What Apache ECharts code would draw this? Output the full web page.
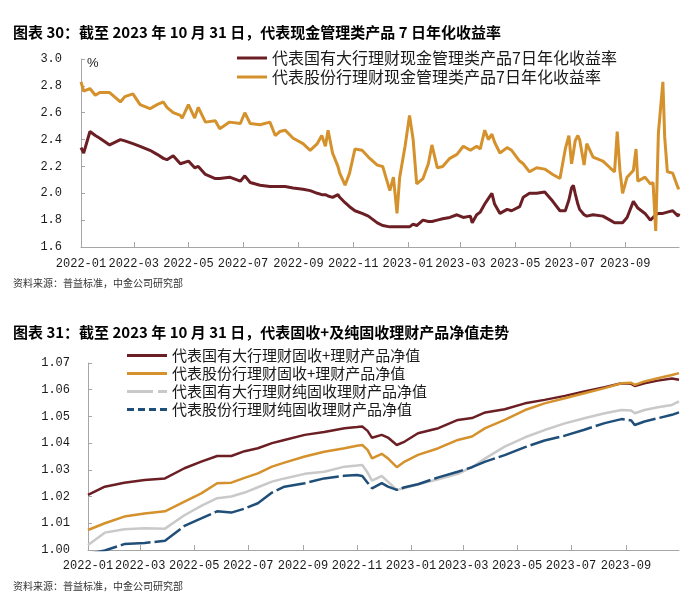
<!DOCTYPE html>
<html><head><meta charset="utf-8">
<script src="https://cdn.jsdelivr.net/npm/echarts@6/dist/echarts.min.js"></script>
<style>html,body{margin:0;padding:0;background:#fff}#c{width:700px;height:601px}</style>
</head><body><div id="c"></div>
<script>
// ---------- text ----------
const title1 = '图表 30：截至 2023 年 10 月 31 日，代表现金管理类产品 7 日年化收益率';
const title2 = '图表 31：截至 2023 年 10 月 31 日，代表固收+及纯固收理财产品净值走势';
const sourceText = '资料来源：普益标准，中金公司研究部';
const yieldNames = ['代表国有大行理财现金管理类产品7日年化收益率', '代表股份行理财现金管理类产品7日年化收益率'];
const navNames = ['代表国有大行理财固收+理财产品净值', '代表股份行理财固收+理财产品净值', '代表国有大行理财纯固收理财产品净值', '代表股份行理财纯固收理财产品净值'];

// ---------- axes ----------
const tickDates = ['2022-01-01','2022-03-01','2022-05-01','2022-07-01','2022-09-01','2022-11-01','2023-01-01','2023-03-01','2023-05-01','2023-07-01','2023-09-01'];
const tickLabels = ['2022-01','2022-03','2022-05','2022-07','2022-09','2022-11','2023-01','2023-03','2023-05','2023-07','2023-09'];
const xStart = '2022-01-01', xEnd = '2023-10-31';

// ---------- chart 30: 7-day annualised yield (%) ----------
const yieldDates = [
'2022-01-01','2022-01-04','2022-01-11','2022-01-17','2022-01-22','2022-02-02','2022-02-14','2022-02-19','2022-02-28','2022-03-08',
'2022-03-19','2022-03-27','2022-04-03','2022-04-07','2022-04-14','2022-04-22','2022-04-24','2022-05-01','2022-05-08','2022-05-12',
'2022-05-20','2022-05-31','2022-06-05','2022-06-16','2022-06-28','2022-07-03','2022-07-09','2022-07-20','2022-07-31','2022-08-06',
'2022-08-11','2022-08-17','2022-08-26','2022-09-06','2022-09-14','2022-09-22','2022-09-27','2022-10-01','2022-10-04','2022-10-09',
'2022-10-15','2022-10-17','2022-10-23','2022-10-28','2022-11-03','2022-11-11','2022-11-18','2022-11-28','2022-12-04','2022-12-12',
'2022-12-16','2022-12-20','2022-12-23','2022-12-29','2023-01-03','2023-01-07','2023-01-11','2023-01-18','2023-01-24','2023-01-28',
'2023-02-03','2023-02-09','2023-02-17','2023-02-25','2023-03-04','2023-03-12','2023-03-14','2023-03-19','2023-03-23','2023-03-28',
'2023-04-01','2023-04-05','2023-04-08','2023-04-14','2023-04-22','2023-04-27','2023-05-06','2023-05-10','2023-05-17','2023-05-25',
'2023-06-03','2023-06-12','2023-06-20','2023-06-26','2023-06-30','2023-07-03','2023-07-05','2023-07-07','2023-07-10','2023-07-12',
'2023-07-17','2023-07-20','2023-07-27','2023-08-07','2023-08-15','2023-08-20','2023-08-23','2023-08-26','2023-08-29','2023-09-03',
'2023-09-10','2023-09-13','2023-09-15','2023-09-23','2023-09-29','2023-10-02','2023-10-05','2023-10-08','2023-10-13','2023-10-15',
'2023-10-18','2023-10-24','2023-10-30','2023-10-31'];
const yieldBigBank = [
2.34,2.30,2.46,2.43,2.41,2.36,2.40,2.39,2.37,2.35,
2.32,2.29,2.26,2.25,2.28,2.22,2.22,2.24,2.19,2.20,
2.14,2.11,2.11,2.12,2.09,2.13,2.08,2.06,2.05,2.05,
2.05,2.05,2.04,2.03,2.02,2.00,1.99,1.99,1.98,1.97,
1.99,1.97,1.93,1.90,1.87,1.85,1.83,1.78,1.76,1.75,
1.75,1.75,1.75,1.75,1.75,1.77,1.76,1.80,1.79,1.79,
1.80,1.81,1.82,1.84,1.82,1.83,1.78,1.84,1.86,1.92,
1.96,2.00,1.92,1.85,1.88,1.87,1.90,1.97,2.00,2.00,
2.01,1.94,1.87,1.87,1.95,2.04,2.06,2.00,1.92,1.88,
1.84,1.83,1.84,1.83,1.80,1.78,1.78,1.78,1.78,1.82,
1.94,1.91,1.89,1.85,1.80,1.82,1.84,1.85,1.85,1.85,
1.86,1.87,1.83,1.85];
const yieldJointStock = [
2.83,2.76,2.78,2.73,2.75,2.75,2.68,2.72,2.74,2.66,
2.63,2.66,2.68,2.64,2.60,2.58,2.56,2.66,2.56,2.64,
2.53,2.54,2.48,2.53,2.52,2.60,2.52,2.51,2.53,2.43,
2.46,2.47,2.41,2.37,2.32,2.37,2.43,2.35,2.47,2.30,
2.20,2.15,2.06,2.15,2.33,2.32,2.27,2.21,2.20,2.02,
2.12,1.85,2.12,2.35,2.58,2.40,2.07,2.11,2.22,2.36,
2.19,2.20,2.26,2.29,2.35,2.32,2.33,2.35,2.33,2.47,
2.40,2.44,2.38,2.30,2.34,2.32,2.24,2.22,2.16,2.19,
2.18,2.14,2.11,2.33,2.43,2.22,2.30,2.39,2.43,2.40,
2.21,2.37,2.27,2.24,2.19,2.16,2.46,2.17,2.00,2.12,
2.17,2.33,2.09,2.12,2.07,2.08,1.72,2.45,2.83,2.42,
2.16,2.15,2.04,2.03];

// ---------- chart 31: net asset value ----------
const navDates = ['2022-01-01','2022-01-20','2022-02-11','2022-03-06','2022-03-29','2022-04-20','2022-05-09','2022-05-27','2022-06-12','2022-06-27',
'2022-07-12','2022-07-28','2022-08-11','2022-09-03','2022-09-25','2022-10-18','2022-11-01','2022-11-07','2022-11-13','2022-11-18',
'2022-11-29','2022-12-06','2022-12-16','2022-12-25','2023-01-09','2023-02-01','2023-02-23','2023-03-11','2023-03-26','2023-04-17',
'2023-05-10','2023-06-01','2023-06-24','2023-07-16','2023-08-08','2023-08-27','2023-09-07','2023-09-11','2023-09-22','2023-10-07',
'2023-10-23','2023-10-31'];
const navBigPlus = [1.0206,1.0237,1.0252,1.0262,1.0268,1.0306,1.0331,1.0352,1.0352,1.0370,
1.0381,1.0400,1.0412,1.0431,1.0442,1.0456,1.0460,1.0462,1.0446,1.0420,
1.0431,1.0421,1.0393,1.0406,1.0437,1.0456,1.0487,1.0494,1.0515,1.0527,
1.0549,1.0562,1.0577,1.0593,1.0609,1.0624,1.0622,1.0614,1.0624,1.0634,
1.0642,1.0637];
const navJointPlus = [1.0075,1.0100,1.0125,1.0137,1.0145,1.0181,1.0212,1.0250,1.0252,1.0270,
1.0287,1.0312,1.0327,1.0350,1.0368,1.0381,1.0390,1.0393,1.0375,1.0343,
1.0360,1.0343,1.0310,1.0331,1.0356,1.0381,1.0412,1.0425,1.0456,1.0487,
1.0524,1.0549,1.0568,1.0587,1.0606,1.0624,1.0626,1.0618,1.0631,1.0643,
1.0655,1.0662];
const navBigPure = [1.0019,1.0065,1.0078,1.0081,1.0080,1.0130,1.0165,1.0194,1.0200,1.0215,
1.0235,1.0256,1.0268,1.0285,1.0293,1.0312,1.0316,1.0318,1.0290,1.0260,
1.0277,1.0256,1.0225,1.0232,1.0246,1.0265,1.0285,1.0310,1.0343,1.0387,
1.0422,1.0449,1.0474,1.0493,1.0512,1.0524,1.0522,1.0512,1.0524,1.0534,
1.0543,1.0556];
const navJointPure = [0.9985,0.9998,1.0022,1.0026,1.0035,1.0090,1.0118,1.0145,1.0140,1.0155,
1.0175,1.0215,1.0237,1.0250,1.0268,1.0278,1.0281,1.0277,1.0252,1.0231,
1.0250,1.0237,1.0225,1.0235,1.0246,1.0272,1.0293,1.0310,1.0331,1.0355,
1.0385,1.0410,1.0428,1.0450,1.0475,1.0490,1.0485,1.0468,1.0481,1.0493,
1.0506,1.0515];

// ---------- build ----------
const toTs = s => { const p = s.split('-').map(Number); return Date.UTC(p[0], p[1] - 1, p[2]); };
const pairs = (dates, vals) => dates.map((d, i) => [toTs(d), vals[i]]);
const tickTs = tickDates.map(toTs);
const xLabelFmt = v => { const i = tickTs.indexOf(v); return i >= 0 ? tickLabels[i] : ''; };

const C_RED = '#6B1F24', C_GOLD = '#D4912C', C_GRAY = '#C9C9C9', C_BLUE = '#1F4E78';
const AX = '#A6A6A6';
const monoFont = { fontFamily: 'Liberation Mono', fontSize: 12, color: '#1a1a1a' };
const cjk = 'Noto Sans CJK SC';
// legend swatches (solid, long-short dash, short dashes)
const ICON_SOLID = 'path://M0 0H40V3H0Z';
const ICON_LONGSHORT = 'path://M0 0H26V3H0Z M31 0H40V3H31Z';
const ICON_DASH = 'path://M0 0H7V3H0Z M11 0H18V3H11Z M22 0H29V3H22Z M33 0H40V3H33Z';

function xAxisFor(gi, margin) {
  return {
    type: 'value', gridIndex: gi, min: toTs(xStart), max: toTs(xEnd), scale: true,
    axisLine: { lineStyle: { color: AX, width: 1 } },
    axisTick: { show: true, inside: true, length: 5, lineStyle: { color: AX }, customValues: tickTs },
    axisLabel: Object.assign({ customValues: tickTs, formatter: xLabelFmt, margin: margin, hideOverlap: false }, monoFont),
    splitLine: { show: false }
  };
}
function yAxisFor(gi, min, max, step, dec, margin, extra) {
  return Object.assign({
    type: 'value', gridIndex: gi, min: min, max: max, interval: step,
    axisLine: { show: true, lineStyle: { color: AX, width: 1 } },
    axisTick: { show: true, inside: true, length: 4, lineStyle: { color: AX } },
    axisLabel: Object.assign({ formatter: v => v.toFixed(dec), margin: margin }, monoFont),
    splitLine: { show: false }
  }, extra || {});
}
function line(name, data, color, width, xi, extraStyle) {
  return {
    name: name, type: 'line', xAxisIndex: xi, yAxisIndex: xi, data: data,
    symbol: 'none', smooth: false, clip: true,
    lineStyle: Object.assign({ color: color, width: width }, extraStyle || {}),
    itemStyle: { color: color }
  };
}

const chart = echarts.init(document.getElementById('c'), null, { renderer: 'canvas' });
chart.setOption({
  animation: false,
  backgroundColor: '#fff',
  title: [
    { text: title1, left: 8, top: 20, textStyle: { fontSize: 15, fontWeight: 'bold', fontFamily: cjk, color: '#000' } },
    { text: sourceText, left: 8, top: 273, textStyle: { fontSize: 10, fontWeight: 'normal', fontFamily: cjk, color: '#333' } },
    { text: title2, left: 8, top: 320, textStyle: { fontSize: 15, fontWeight: 'bold', fontFamily: cjk, color: '#000' } },
    { text: sourceText, left: 8, top: 576, textStyle: { fontSize: 10, fontWeight: 'normal', fontFamily: cjk, color: '#333' } }
  ],
  legend: [
    { orient: 'vertical', left: 232, top: 45, itemWidth: 30, itemHeight: 3, itemGap: 3,
      symbolKeepAspect: false,
      textStyle: { fontSize: 16, fontFamily: cjk, color: '#1a1a1a' },
      data: [{ name: yieldNames[0], icon: ICON_SOLID }, { name: yieldNames[1], icon: ICON_SOLID }] },
    { orient: 'vertical', left: 122, top: 343, itemWidth: 40, itemHeight: 3, itemGap: 3,
      symbolKeepAspect: false,
      textStyle: { fontSize: 15, fontFamily: cjk, color: '#1a1a1a' },
      data: [
        { name: navNames[0], icon: ICON_SOLID },
        { name: navNames[1], icon: ICON_SOLID },
        { name: navNames[2], icon: ICON_LONGSHORT },
        { name: navNames[3], icon: ICON_DASH }
      ] }
  ],
  grid: [
    { left: 81, top: 59, right: 21, height: 188, containLabel: false },
    { left: 88, top: 363, right: 21, height: 187, containLabel: false }
  ],
  xAxis: [xAxisFor(0, 11), xAxisFor(1, 10)],
  yAxis: [
    yAxisFor(0, 1.6, 3.0, 0.2, 1, 19, {
      name: '%', nameLocation: 'end', nameGap: -11,
      nameTextStyle: { fontSize: 13, fontFamily: 'Liberation Sans', color: '#1a1a1a', align: 'left', padding: [0, 0, 0, 6] }
    }),
    yAxisFor(1, 1.00, 1.07, 0.01, 2, 18)
  ],
  series: [
    line(yieldNames[0], pairs(yieldDates, yieldBigBank), C_RED, 3, 0),
    line(yieldNames[1], pairs(yieldDates, yieldJointStock), C_GOLD, 3, 0),
    line(navNames[0], pairs(navDates, navBigPlus), C_RED, 2.5, 1),
    line(navNames[1], pairs(navDates, navJointPlus), C_GOLD, 2.5, 1),
    line(navNames[2], pairs(navDates, navBigPure), C_GRAY, 2.5, 1),
    line(navNames[3], pairs(navDates, navJointPure), C_BLUE, 2.5, 1, { type: [30, 4] })
  ]
});
</script>
</body></html>
